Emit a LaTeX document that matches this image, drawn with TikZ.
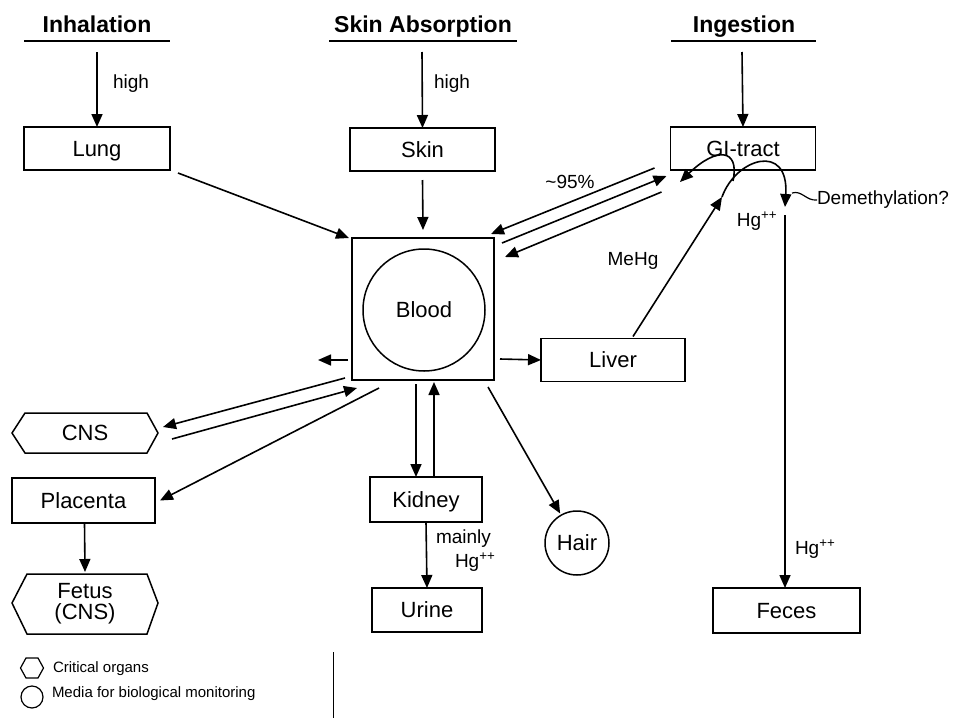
\documentclass[tikz,border=0pt]{standalone}
\usepackage{fontspec}
\setmainfont{Liberation Sans}
\usetikzlibrary{arrows.meta,calc}
\begin{document}
\begin{tikzpicture}[x=1pt,y=-1pt,
  every node/.style={inner sep=0pt, outer sep=0pt},
  bfont/.style={font=\fontsize{22}{22}\selectfont},
  ctext/.style={text height=15.8pt, text depth=0pt},
  box/.style={draw, line width=1.5pt, bfont, ctext},
  roundbox/.style={draw, circle, line width=1.5pt, bfont, ctext},
  lbl/.style={font=\fontsize{19}{21}\selectfont},
  leg/.style={font=\fontsize{15}{17}\selectfont, anchor=west},
  head/.style={font=\bfseries\fontsize{23}{26}\selectfont, anchor=base},
  uline/.style={line width=2.4pt},
  arr/.style={line width=1.6pt, -{Triangle[length=13pt,width=11pt]}},
  ln/.style={line width=1.6pt},
  hexline/.style={line width=1.5pt},
]
\useasboundingbox (0,0) rectangle (956,718);

% headers
\node[head] (inh) at (97,32) {Inhalation};
\node[head] (sab) at (423,32) {Skin Absorption};
\node[head] (ing) at (744,32) {Ingestion};
\draw[uline] (24,41) -- (170,41);
\draw[uline] (329,41) -- (517,41);
\draw[uline] (671,41) -- (816,41);
\coordinate (inhs) at (97,52);
\coordinate (sabs) at (422,52);
\coordinate (ings) at (742,52);

% boxes
\node[box, minimum width=146pt, minimum height=43pt] (lung) at (97,148.5) {Lung};
\node[box, minimum width=145pt, minimum height=43pt] (skin) at (422.5,149.5) {Skin};
\node[box, minimum width=145pt, minimum height=43pt] (gi) at (743,148.5) {GI-tract};
\node[box, minimum width=142pt, minimum height=142pt] (bsq) at (423,309) {};
\node[roundbox, minimum size=122pt] (blood) at (424,310) {Blood};
\node[box, minimum width=144pt, minimum height=43pt] (liver) at (613,360) {Liver};
\node[box, minimum width=112pt, minimum height=45pt] (kidney) at (426,499.5) {Kidney};
\node[box, minimum width=110pt, minimum height=44pt] (urine) at (427,610) {Urine};
\node[roundbox, minimum size=64pt] (hair) at (577,543) {Hair};
\node[box, minimum width=147pt, minimum height=45pt] (feces) at (786.5,610.5) {Feces};
\node[box, minimum width=143pt, minimum height=45pt] (placenta) at (83.5,500.5) {Placenta};

% hexagons
\node[bfont, ctext, minimum width=146pt, minimum height=40pt] (cns) at (85,433) {CNS};
\draw[hexline] (cns.west) -- ([shift={(13,0)}]cns.north west) -- ([shift={(-11,0)}]cns.north east)
  -- (cns.east) -- ([shift={(-11,0)}]cns.south east) -- ([shift={(13,0)}]cns.south west) -- cycle;
\node[bfont, align=center, minimum width=146pt, minimum height=60pt] (fetus) at (85,604) {Fetus\\[-1pt](CNS)};
\draw[hexline] ([shift={(0,-1)}]fetus.west) -- ([shift={(15,0)}]fetus.north west) -- ([shift={(-11,0)}]fetus.north east)
  -- ([shift={(0,-1)}]fetus.east) -- ([shift={(-11,0)}]fetus.south east) -- ([shift={(15,0)}]fetus.south west) -- cycle;

% entry arrows
\draw[arr] (inhs) -- (lung.north);
\draw[arr] (sabs) -- (skin.north);
\draw[arr] (ings) -- (gi.north);
\node[lbl, anchor=west] (h1) at (113,84) {high};
\node[lbl, anchor=west] (h2) at (434,84) {high};

% into blood
\draw[arr] ([shift={(8,3)}]lung.south east) -- ([shift={(-3,0)}]bsq.north west);
\draw[arr] ([shift={(0,9)}]skin.south) -- ([shift={(0,-8)}]bsq.north);

% blood <-> GI tract
\draw[arr] ([shift={(-16,-2)}]gi.south west) -- ([shift={(-3,-4)}]bsq.north east);
\draw[arr] ([shift={(8,5)}]bsq.north east) -- ([shift={(-4,6)}]gi.south west);
\draw[arr] ([shift={(-9,22)}]gi.south west) -- ([shift={(11,19)}]bsq.north east);
\node[lbl] (p95) at (570,182) {\textasciitilde 95\%};

% liver to GI tract
\coordinate (mtop) at ([shift={(-21,27)}]gi.south);
\draw[arr] ([shift={(20,-2)}]liver.north) -- (mtop);
\node[lbl] (mehg) at (633,261) {MeHg};
\coordinate (lc) at (733,181);
\draw[arr] (lc) .. controls (740,148) and (716,147) .. (680,182);
\draw[arr] (mtop) .. controls (736,158) and (789,142) .. (785,207);
\coordinate (dm) at (792,193);
\node[lbl, anchor=west] (demeth) at (817,200) {Demethylation?};
\draw[line width=1.2pt] (dm) .. controls (802,190) and (806,201) .. (demeth.west);
\node[lbl] (hg1) at (757,221) {Hg\textsuperscript{++}};
\coordinate (hgs) at (785,215);
\draw[arr] (hgs) -- (hgs |- feces.north);
\node[lbl, anchor=west] (hg2) at (795,549) {Hg\textsuperscript{++}};

% blood outputs
\draw[arr] ([shift={(-4,-20)}]bsq.south west) -- ([shift={(-34,-20)}]bsq.south west);
\draw[arr] ([shift={(6,-21)}]bsq.south east) -- (liver.west);
\draw[arr] ([shift={(-7,-2)}]bsq.south west) -- ([shift={(5,-6)}]cns.east);
\draw[arr] ([shift={(14,6)}]cns.east) -- ([shift={(5,8)}]bsq.south west);
\draw[arr] ([shift={(27,8)}]bsq.south west) -- ([shift={(5,0)}]placenta.east);
\coordinate (kd) at ([shift={(-7,4)}]bsq.south);
\draw[arr] (kd) -- (kd |- kidney.north);
\coordinate (ku) at ([shift={(11,2)}]bsq.south);
\draw[arr] (ku |- kidney.north) -- (ku);
\draw[arr, shorten >=2pt] ([shift={(-6,7)}]bsq.south east) -- (hair);

% kidney to urine
\draw[arr] (kidney.south) -- (urine.north);
\node[lbl, anchor=west] (mainly) at (436,539) {mainly};
\node[lbl, anchor=west] (hg3) at (455,562) {Hg\textsuperscript{++}};

% placenta to fetus
\draw[arr] ([shift={(1,0)}]placenta.south) -- ([shift={(0,-2)}]fetus.north);

% legend
\coordinate (lh) at (32,668);
\draw[line width=1.2pt] ([shift={(-11.5,0)}]lh) -- ([shift={(-6,-10)}]lh) -- ([shift={(6,-10)}]lh)
  -- ([shift={(11.5,0)}]lh) -- ([shift={(6,10)}]lh) -- ([shift={(-6,10)}]lh) -- cycle;
\node[leg] (l1) at (53,669) {Critical organs};
\node[draw, circle, line width=1.2pt, minimum size=22pt] (lc2) at (32,697) {};
\node[leg] (l2) at (52,694) {Media for biological monitoring};
\draw[line width=0.8pt] (333,652) -- (333,718);
\end{tikzpicture}
\end{document}
